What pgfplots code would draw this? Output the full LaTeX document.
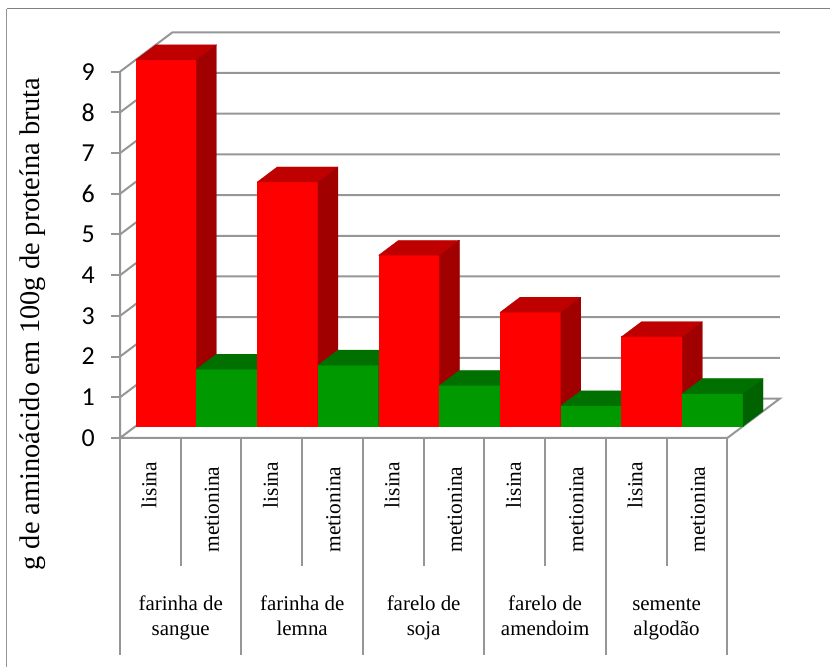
\documentclass[border=0pt]{standalone}
\usepackage{fontspec}
\setmainfont{Liberation Serif}
\newfontfamily\numfont{Carlito}
\usepackage{pgfplots}
\pgfplotsset{compat=1.18}

\definecolor{gridgray}{RGB}{150,150,150}
\definecolor{redfront}{RGB}{255,0,0}
\definecolor{redtop}{RGB}{190,0,0}
\definecolor{redside}{RGB}{160,0,0}
\definecolor{greenfront}{RGB}{0,153,0}
\definecolor{greentop}{RGB}{0,112,0}
\definecolor{greenside}{RGB}{0,98,0}

\tikzset{
  rule/.style={draw=gridgray,line width=2bp,mark=none},
  aa/.style={rotate=90,inner sep=0pt,font=\fontsize{21.5}{21.5}\selectfont},
  grp/.style={align=center,inner sep=0pt,font=\fontsize{21}{25}\selectfont},
}

% One 3D column: left edge, right edge, value, colour stem
\newcommand{\column}[4]{%
  \addplot3[draw=#4front,line width=0.3bp,fill=#4front] coordinates {(#1,0.3,0)(#2,0.3,0)(#2,0.3,#3)(#1,0.3,#3)} -- cycle;
  \addplot3[draw=#4top,line width=0.3bp,fill=#4top] coordinates {(#1,0.3,#3)(#2,0.3,#3)(#2,0.68,#3)(#1,0.68,#3)} -- cycle;
  \addplot3[draw=#4side,line width=0.3bp,fill=#4side] coordinates {(#2,0.3,0)(#2,0.68,0)(#2,0.68,#3)(#2,0.3,#3)} -- cycle;
}

\begin{document}
\begin{tikzpicture}[x=1bp,y=1bp]
\useasboundingbox (0,0) rectangle (830,667);
% Outer frame of the chart area
\draw[gridgray!85!black,line width=1.1bp] (830,658.3) -- (6.5,658.3);
\draw[gridgray,line width=1.8bp] (6.5,658.3) -- (6.5,0);

\begin{axis}[
  at={(120bp,229bp)}, anchor=origin,
  x={(60.73bp,0bp)}, y={(52.5bp,39.4bp)}, z={(0bp,40.7bp)},
  xmin=0, xmax=10, ymin=0, ymax=1, zmin=0, zmax=9,
  clip=false,
  axis line style={draw=none},
  xtick=\empty, ytick=\empty,
  ztick={0,1,2,3,4,5,6,7,8,9},
  ztick pos=left,
  major tick length=0pt,
  tick style={draw=none},
  /pgf/number format/assume math mode=true,
  z tick label style={font=\numfont\fontsize{26}{26}\selectfont,anchor=east,inner sep=0pt,xshift=-25bp},
  zlabel={g de aminoácido em 100g de proteína bruta},
  every axis z label/.style={at={(axis cs:-1.43,0,2.8)},rotate=90,anchor=center,
    font=\fontsize{28.5}{28.5}\selectfont},
]
% Walls and floor
\addplot3[rule] coordinates {(0,0,9)(0,0,0)(10,0,0)(10,1,0)(0,1,0)(0,0,0)};
\pgfplotsinvokeforeach{1,2,3,4,5,6,7,8,9}{
  \addplot3[rule] coordinates {(0,0,#1)(0,1,#1)(10,1,#1)};
}
% Horizontal tick marks on the value axis
\pgfplotsinvokeforeach{0,1,2,3,4,5,6,7,8,9}{
  \addplot3[rule] coordinates {(-0.148,0,#1)(0,0,#1)};
}
% Columns, left to right so that each one hides the side of its neighbour
\column{0}{1}{9}{red}
\column{1}{2}{1.4}{green}
\column{2}{3}{6}{red}
\column{3}{4}{1.5}{green}
\column{4}{5}{4.2}{red}
\column{5}{6}{1}{green}
\column{6}{7}{2.8}{red}
\column{7}{8}{0.5}{green}
\column{8}{9}{2.2}{red}
\column{9}{10}{0.8}{green}
% Rules of the category table
\addplot3[rule] coordinates {(0,0,0)(0,0,-5.33)};
\addplot3[rule] coordinates {(2,0,0)(2,0,-5.33)};
\addplot3[rule] coordinates {(4,0,0)(4,0,-5.33)};
\addplot3[rule] coordinates {(6,0,0)(6,0,-5.33)};
\addplot3[rule] coordinates {(8,0,0)(8,0,-5.33)};
\addplot3[rule] coordinates {(10,0,0)(10,0,-5.33)};
\addplot3[rule] coordinates {(1,0,0)(1,0,-3.15)};
\addplot3[rule] coordinates {(3,0,0)(3,0,-3.15)};
\addplot3[rule] coordinates {(5,0,0)(5,0,-3.15)};
\addplot3[rule] coordinates {(7,0,0)(7,0,-3.15)};
\addplot3[rule] coordinates {(9,0,0)(9,0,-3.15)};
% Amino acid names
\pgfplotsinvokeforeach{0.48,2.48,4.48,6.48,8.48}{
  \node[aa,anchor=east] at (axis cs:#1,0,-0.58) {lisina};
}
\pgfplotsinvokeforeach{1.515,3.515,5.515,7.515,9.515}{
  \node[aa,anchor=east] at (axis cs:#1,0,-0.70) {metionina};
}
% Feed names
\node[grp] at (axis cs:1,0,-4.43) {farinha de\strut\\sangue\strut};
\node[grp] at (axis cs:3,0,-4.43) {farinha de\strut\\lemna\strut};
\node[grp] at (axis cs:5,0,-4.43) {farelo de\strut\\soja\strut};
\node[grp] at (axis cs:7,0,-4.43) {farelo de\strut\\amendoim\strut};
\node[grp] at (axis cs:9,0,-4.43) {semente\strut\\algodão\strut};
\end{axis}
\end{tikzpicture}
\end{document}
